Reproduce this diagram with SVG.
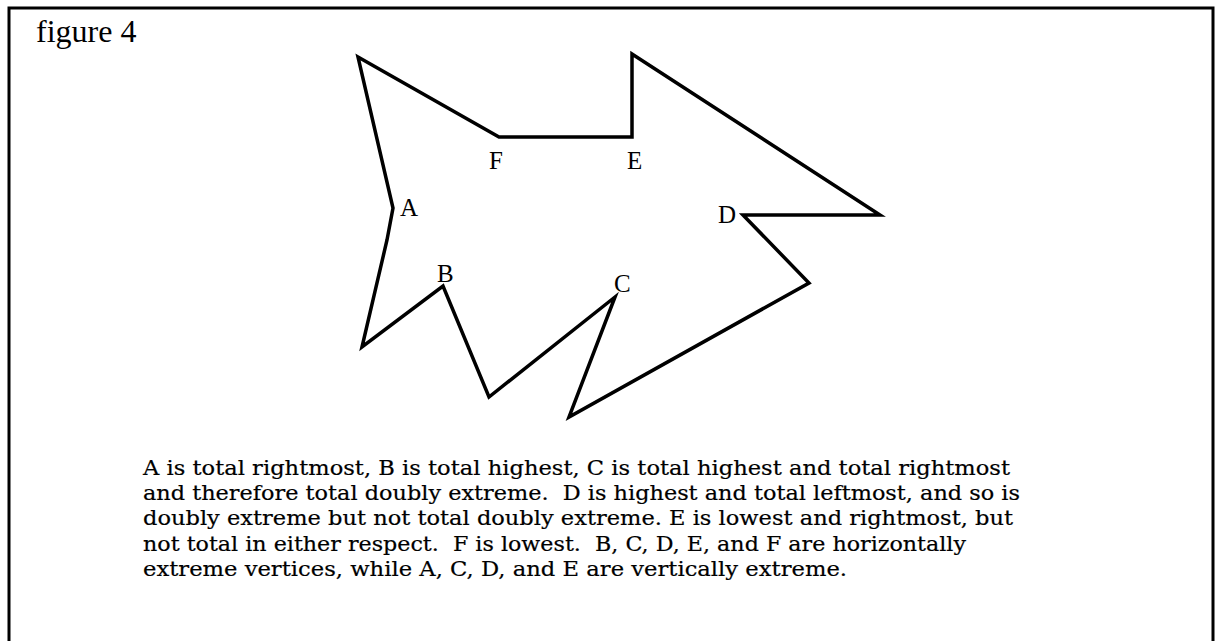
<svg xmlns="http://www.w3.org/2000/svg" width="1216" height="641" viewBox="0 0 1216 641">
<style>
.frame{fill:none;stroke:#000;stroke-width:3}
.poly{fill:none;stroke:#000;stroke-width:3.5;stroke-linejoin:miter}
.lbl{font-family:"Liberation Serif",serif;font-size:25px;fill:#000}
.title{font-family:"Liberation Serif",serif;font-size:32px;fill:#000}
.body{font-family:"DejaVu Serif",serif;font-size:21px;fill:#000;stroke:#000;stroke-width:0.2;white-space:pre}
</style>
<rect width="1216" height="641" fill="#fff"/>
<path class="frame" d="M9,641 V8 H1213 V641"/>
<text class="title" x="36" y="42">figure 4</text>
<g id="polygon">
<polygon class="poly" points="358,57 499,137 632,137 632,54 880,215 743,215 809,283 569,417 615,297 489,397 443,286 362,347 387,240 393,208"/>
</g>
<g id="labels">
<text class="lbl" x="400" y="216">A</text>
<text class="lbl" x="437" y="282">B</text>
<text class="lbl" x="614" y="292">C</text>
<text class="lbl" x="718" y="223">D</text>
<text class="lbl" x="627" y="169">E</text>
<text class="lbl" x="489" y="169">F</text>
</g>
<g id="caption">
<text class="body" x="143" y="475" textLength="867" lengthAdjust="spacingAndGlyphs">A is total rightmost, B is total highest, C is total highest and total rightmost</text>
<text class="body" x="143" y="500" textLength="877" lengthAdjust="spacingAndGlyphs">and therefore total doubly extreme.  D is highest and total leftmost, and so is</text>
<text class="body" x="143" y="525" textLength="870" lengthAdjust="spacingAndGlyphs">doubly extreme but not total doubly extreme. E is lowest and rightmost, but</text>
<text class="body" x="143" y="551" textLength="823" lengthAdjust="spacingAndGlyphs">not total in either respect.  F is lowest.  B, C, D, E, and F are horizontally</text>
<text class="body" x="143" y="576" textLength="704" lengthAdjust="spacingAndGlyphs">extreme vertices, while A, C, D, and E are vertically extreme.</text>
</g>
</svg>
